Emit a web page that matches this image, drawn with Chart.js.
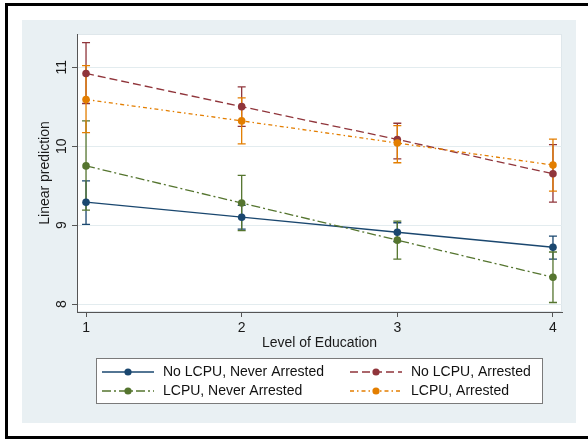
<!DOCTYPE html>
<html>
<head>
<meta charset="utf-8">
<script src="https://cdn.jsdelivr.net/npm/chart.js@4/dist/chart.umd.min.js"></script>
<style>
  html, body { margin: 0; padding: 0; background: #ffffff; }
  #wrap { position: relative; width: 588px; height: 440px; }
  canvas { display: block; }
</style>
</head>
<body>
<div id="wrap"><canvas id="c" width="588" height="440"></canvas></div>
<script>
// Education levels on the x axis
const eduLevels = [1, 2, 3, 4];
const xTicks = [1, 2, 3, 4];
const yTicks = [8, 9, 10, 11];

// Predicted values per group
const noLcpuNeverArrested = [9.29, 9.10, 8.91, 8.72];
const noLcpuArrested      = [10.92, 10.50, 10.085, 9.65];
const lcpuNeverArrested   = [9.75, 9.28, 8.81, 8.34];
const lcpuArrested        = [10.59, 10.32, 10.04, 9.76];

// 95% confidence limits per group
const noLcpuNeverLo = [9.01, 8.95, 8.79, 8.57];
const noLcpuNeverHi = [9.56, 9.25, 9.03, 8.86];
const noLcpuArrLo   = [10.54, 10.25, 9.84, 9.29];
const noLcpuArrHi   = [11.31, 10.75, 10.29, 10.02];
const lcpuNeverLo   = [9.19, 8.93, 8.57, 8.02];
const lcpuNeverHi   = [10.32, 9.63, 9.05, 8.66];
const lcpuArrLo     = [10.17, 10.03, 9.79, 9.43];
const lcpuArrHi     = [11.02, 10.61, 10.26, 10.09];

const groupLabels = ['No LCPU, Never Arrested', 'No LCPU, Arrested', 'LCPU, Never Arrested', 'LCPU, Arrested'];

const FONT = '"Liberation Sans", Arial, sans-serif';
const COLORS = ['#1a476f', '#90353b', '#55752f', '#e37e00'];
const DASHES = [[], [8, 4], [9, 3, 2, 3], [4, 3, 1.5, 3]];

function pts(vals) { return eduLevels.map((x, i) => ({ x: x, y: vals[i] })); }

const seriesVals = [noLcpuNeverArrested, noLcpuArrested, lcpuNeverArrested, lcpuArrested];
const ciLo = [noLcpuNeverLo, noLcpuArrLo, lcpuNeverLo, lcpuArrLo];
const ciHi = [noLcpuNeverHi, noLcpuArrHi, lcpuNeverHi, lcpuArrHi];

const datasets = seriesVals.map((vals, i) => ({
  label: groupLabels[i],
  data: pts(vals),
  borderColor: COLORS[i],
  backgroundColor: COLORS[i],
  borderWidth: 1.3,
  borderDash: DASHES[i],
  pointRadius: 3.8,
  pointBorderWidth: 0,
  pointBackgroundColor: COLORS[i],
  tension: 0,
  order: 3 - i,
  ciLo: ciLo[i],
  ciHi: ciHi[i]
}));

// Graph region and plot region backgrounds, outer frame
const backdrop = {
  id: 'backdrop',
  beforeDraw(chart) {
    const ctx = chart.ctx, a = chart.chartArea;
    ctx.save();
    ctx.fillStyle = '#ffffff';
    ctx.fillRect(0, 0, chart.width, chart.height);
    ctx.fillStyle = '#e9f0f3';
    ctx.fillRect(22, 20, 554, 403);
    ctx.fillStyle = '#ffffff';
    ctx.fillRect(a.left, a.top, a.right - a.left, a.bottom - a.top);
    ctx.strokeStyle = '#dfe7eb';
    ctx.lineWidth = 1;
    ctx.strokeRect(a.left + 0.5, a.top + 0.5, a.right - a.left - 1, a.bottom - a.top - 1);
    // outer frame
    ctx.strokeStyle = '#000000';
    ctx.lineWidth = 3;
    ctx.beginPath();
    ctx.moveTo(600, 4.5);
    ctx.lineTo(6.5, 4.5);
    ctx.lineTo(6.5, 437.5);
    ctx.lineTo(600, 437.5);
    ctx.stroke();
    ctx.restore();
  }
};

// Capped confidence intervals, drawn beneath the lines
const ciCaps = {
  id: 'ciCaps',
  beforeDatasetsDraw(chart) {
    const ctx = chart.ctx, xs = chart.scales.x, ys = chart.scales.y;
    ctx.save();
    chart.data.datasets.forEach((ds) => {
      ctx.strokeStyle = ds.borderColor;
      ctx.lineWidth = 1.3;
      ctx.setLineDash([]);
      ds.data.forEach((p, j) => {
        const x = xs.getPixelForValue(p.x);
        const y1 = ys.getPixelForValue(ds.ciLo[j]);
        const y2 = ys.getPixelForValue(ds.ciHi[j]);
        ctx.beginPath();
        ctx.moveTo(x, y1); ctx.lineTo(x, y2);
        ctx.moveTo(x - 4, y1); ctx.lineTo(x + 4, y1);
        ctx.moveTo(x - 4, y2); ctx.lineTo(x + 4, y2);
        ctx.stroke();
      });
    });
    ctx.restore();
  }
};

// Axis labels, titles and the legend box
const annotations = {
  id: 'annotations',
  afterDraw(chart) {
    const ctx = chart.ctx, a = chart.chartArea, xs = chart.scales.x, ys = chart.scales.y;
    ctx.save();
    ctx.fillStyle = '#1a1a1a';
    ctx.font = '14px ' + FONT;
    ctx.textAlign = 'center';
    ctx.textBaseline = 'middle';
    xTicks.forEach(v => ctx.fillText(String(v), xs.getPixelForValue(v), a.bottom + 16));
    ctx.fillText('Level of Education', (a.left + a.right) / 2, a.bottom + 31);
    yTicks.forEach(v => {
      ctx.save();
      ctx.translate(a.left - 15, ys.getPixelForValue(v));
      ctx.rotate(-Math.PI / 2);
      ctx.fillText(String(v), 0, 0);
      ctx.restore();
    });
    ctx.save();
    ctx.translate(a.left - 32, (a.top + a.bottom) / 2);
    ctx.rotate(-Math.PI / 2);
    ctx.fillText('Linear prediction', 0, 0);
    ctx.restore();

    // legend
    const bx = 96, by = 358, bw = 446, bh = 45;
    ctx.fillStyle = '#ffffff';
    ctx.fillRect(bx, by, bw, bh);
    ctx.strokeStyle = '#7a7a7a';
    ctx.lineWidth = 1;
    ctx.strokeRect(bx + 0.5, by + 0.5, bw, bh);
    const colX = [102, 350];
    const rowY = [372, 391];
    chart.data.datasets.forEach((ds, i) => {
      const lx = colX[i % 2], ly = rowY[Math.floor(i / 2)];
      ctx.strokeStyle = ds.borderColor;
      ctx.lineWidth = 1.3;
      ctx.setLineDash(ds.borderDash);
      ctx.beginPath();
      ctx.moveTo(lx, ly); ctx.lineTo(lx + 52, ly);
      ctx.stroke();
      ctx.setLineDash([]);
      ctx.fillStyle = ds.borderColor;
      ctx.beginPath();
      ctx.arc(lx + 26, ly, 3.6, 0, Math.PI * 2);
      ctx.fill();
      ctx.fillStyle = '#111111';
      ctx.textAlign = 'left';
      ctx.fillText(ds.label, lx + 61, ly);
    });
    ctx.restore();
  }
};

new Chart(document.getElementById('c'), {
  type: 'line',
  data: { datasets: datasets },
  options: {
    responsive: false,
    animation: false,
    devicePixelRatio: 1,
    layout: { padding: { left: 0, top: 34, right: 26, bottom: 0 } },
    plugins: { legend: { display: false }, tooltip: { enabled: false } },
    scales: {
      x: {
        type: 'linear',
        min: 0.942,
        max: 4.058,
        afterBuildTicks: s => { s.ticks = xTicks.map(v => ({ value: v })); },
        afterFit: s => { s.height = 128; },
        ticks: { display: false },
        grid: { drawOnChartArea: false, drawTicks: true, tickLength: 5, tickColor: '#555555', color: '#555555' },
        border: { display: true, color: '#555555', width: 1 }
      },
      y: {
        type: 'linear',
        min: 7.9,
        max: 11.42,
        afterBuildTicks: s => { s.ticks = yTicks.map(v => ({ value: v })); },
        afterFit: s => { s.width = 77; },
        ticks: { display: false },
        grid: { drawOnChartArea: true, drawTicks: true, tickLength: 5, tickColor: '#555555', color: '#e3ecef', lineWidth: 1 },
        border: { display: true, color: '#555555', width: 1 }
      }
    }
  },
  plugins: [backdrop, ciCaps, annotations]
});
</script>
</body>
</html>
